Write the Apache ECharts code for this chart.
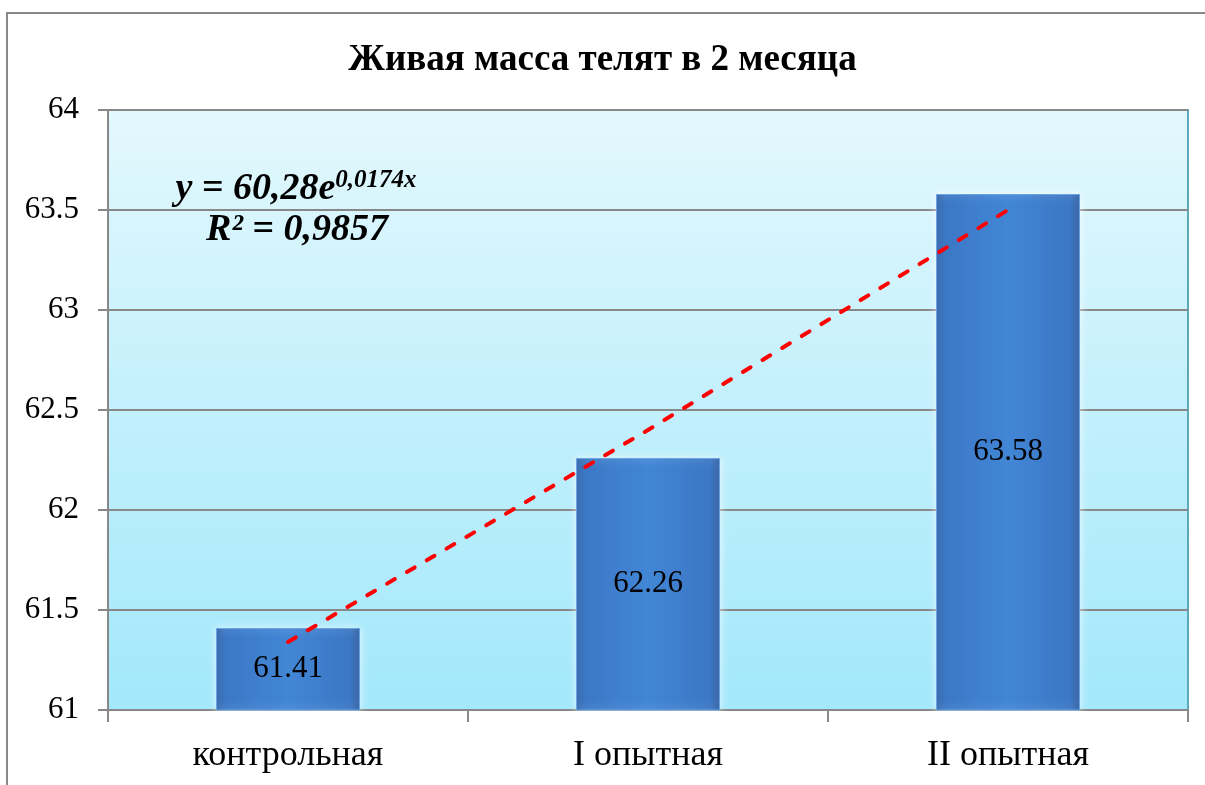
<!DOCTYPE html>
<html>
<head>
<meta charset="utf-8">
<script src="https://cdn.jsdelivr.net/npm/echarts@6/dist/echarts.min.js"></script>
<style>
  html, body { margin: 0; padding: 0; background: #ffffff; }
  #chart { width: 1205px; height: 785px; }
</style>
</head>
<body>
<div id="chart"></div>
<script>
// Live weight of calves at 2 months, by group
const categories = ['контрольная', 'I опытная', 'II опытная'];
const weights = [61.41, 62.26, 63.58];
// Exponential trend line values at each group (y = 60,28e^0,0174x)
const trendValues = [61.34, 62.40, 63.50];
const yTicks = { min: 61, max: 64, interval: 0.5 };

const serif = '"Liberation Serif", "Times New Roman", serif';

const chart = echarts.init(document.getElementById('chart'), null, { renderer: 'canvas' });

chart.setOption({
  backgroundColor: '#ffffff',
  animation: false,
  title: {
    text: 'Живая масса телят в 2 месяца',
    left: 'center',
    top: 37,
    textStyle: { fontFamily: serif, fontWeight: 'bold', fontSize: 37, color: '#000' }
  },
  grid: {
    left: 108, right: 17, top: 110, bottom: 75,
    show: true,
    borderColor: '#5aaabb',
    borderWidth: 2,
    backgroundColor: new echarts.graphic.LinearGradient(0, 0, 0, 1, [
      { offset: 0, color: '#e3f8fd' },
      { offset: 1, color: '#a2e8fb' }
    ])
  },
  xAxis: {
    type: 'category',
    data: categories,
    axisLine: { lineStyle: { color: '#888', width: 2 } },
    axisTick: { show: true, length: 12, lineStyle: { color: '#888', width: 2 } },
    axisLabel: { fontFamily: serif, fontSize: 36, color: '#000', margin: 28 }
  },
  yAxis: {
    type: 'value',
    min: yTicks.min, max: yTicks.max, interval: yTicks.interval,
    axisLine: { show: true, lineStyle: { color: '#888', width: 2 } },
    axisTick: { show: true, length: 10, lineStyle: { color: '#888', width: 2 } },
    axisLabel: { fontFamily: serif, fontSize: 31, color: '#000', margin: 29 },
    splitLine: { lineStyle: { color: '#888', width: 2 } }
  },
  series: [
    {
      type: 'bar',
      data: weights,
      barWidth: '40%',
      itemStyle: {
        color: new echarts.graphic.LinearGradient(0, 0, 1, 0, [
          { offset: 0, color: '#2e62a6' },
          { offset: 0.07, color: '#3b78c6' },
          { offset: 0.5, color: '#4286d6' },
          { offset: 0.93, color: '#3b77c4' },
          { offset: 1, color: '#2b5c9c' }
        ]),
        borderColor: '#69a3e4',
        borderWidth: 1,
        shadowColor: 'rgba(255,255,255,0.7)',
        shadowBlur: 8
      },
      label: {
        show: true,
        position: 'inside',
        fontFamily: serif,
        fontSize: 31,
        color: '#000'
      },
      z: 2
    },
    {
      type: 'line',
      data: trendValues,
      symbol: 'none',
      lineStyle: { color: '#ff0000', width: 4, cap: 'round', type: [9, 14] },
      z: 3
    }
  ],
  graphic: [
    {
      type: 'rect',
      shape: { x: 7, y: 13, width: 1300, height: 900 },
      style: { fill: 'transparent', stroke: '#888', lineWidth: 2 },
      silent: true
    },
    {
      type: 'text',
      x: 296, y: 189,
      style: {
        text: '{m|y = 60,28e}{s|0,0174x}',
        align: 'center',
        verticalAlign: 'middle',
        rich: {
          m: { fontFamily: serif, fontSize: 38, fontWeight: 'bold', fontStyle: 'italic', fill: '#000' },
          s: { fontFamily: serif, fontSize: 25, fontWeight: 'bold', fontStyle: 'italic', fill: '#000', verticalAlign: 'top', padding: [0, 0, 16, 0] }
        }
      },
      z: 10
    },
    {
      type: 'text',
      x: 297, y: 230,
      style: {
        text: 'R² = 0,9857',
        align: 'center',
        verticalAlign: 'middle',
        fontFamily: serif, fontSize: 38, fontWeight: 'bold', fontStyle: 'italic', fill: '#000'
      },
      z: 10
    }
  ]
});
</script>
</body>
</html>
